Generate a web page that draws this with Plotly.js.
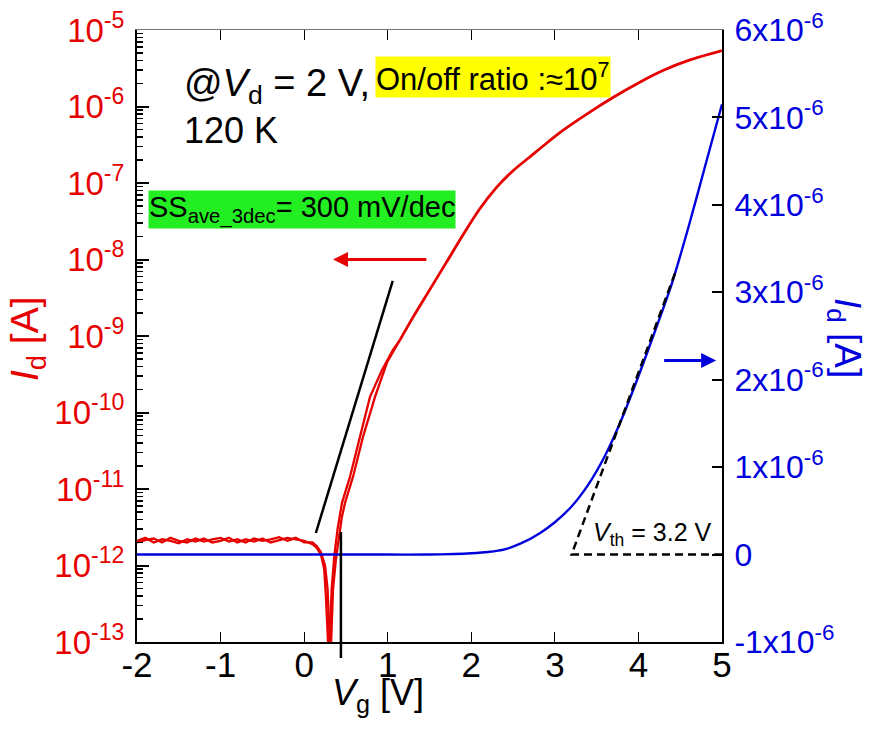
<!DOCTYPE html>
<html>
<head>
<meta charset="utf-8">
<script src="https://cdn.plot.ly/plotly-3.0.1.min.js"></script>
<style>
  html, body { margin: 0; padding: 0; background: #fff; }
  #chart { width: 874px; height: 738px; }
</style>
</head>
<body>
<div id="chart"></div>
<script>
// Transfer curve of the transistor at 120 K, Vd = 2 V.
// Left axis: Id on a log scale (red), right axis: Id on a linear scale (blue).

// Off-state plateau (both sweep directions), Vg in V, Id in A
const vgOff = [-2.0, -1.9, -1.8, -1.7, -1.6, -1.5, -1.4, -1.3, -1.2, -1.1, -1.0,
               -0.9, -0.8, -0.7, -0.6, -0.5, -0.4, -0.3, -0.2, -0.1, 0.0, 0.1];
const idOffUp = [2.1e-12, 2.3e-12, 2.0e-12, 2.2e-12, 2.1e-12, 1.95e-12, 2.2e-12, 2.05e-12, 2.25e-12, 2.0e-12, 2.1e-12,
                 2.3e-12, 2.0e-12, 2.2e-12, 2.05e-12, 2.25e-12, 2.0e-12, 2.15e-12, 2.3e-12, 2.2e-12, 2.1e-12, 1.9e-12];
const idOffDown = [2.0e-12, 2.15e-12, 2.25e-12, 2.0e-12, 2.3e-12, 2.1e-12, 2.0e-12, 2.25e-12, 2.05e-12, 2.2e-12, 2.3e-12,
                   2.05e-12, 2.2e-12, 2.0e-12, 2.25e-12, 2.1e-12, 2.2e-12, 2.35e-12, 2.1e-12, 2.3e-12, 2.0e-12, 2.0e-12];

// Subthreshold region, up sweep (left branch)
const vgSubUp = [0.15, 0.20, 0.24, 0.26, 0.28, 0.29, 0.31, 0.33, 0.36, 0.40, 0.453, 0.549, 0.668, 0.788, 0.932, 1.063, 1.147];
const idSubUp = [1.7e-12, 1.4e-12, 9e-13, 4e-13, 1.5e-13, 8e-14, 1.5e-13, 5e-13, 1.3e-12, 3.0e-12, 6.6e-12, 1.45e-11, 4.8e-11, 1.6e-10, 3.6e-10, 6.6e-10, 8.9e-10];

// Subthreshold region, down sweep (right branch)
const vgSubDown = [1.147, 0.991, 0.848, 0.704, 0.585, 0.489, 0.45, 0.405, 0.38, 0.345, 0.333, 0.32, 0.30, 0.28, 0.25, 0.20, 0.15];
const idSubDown = [8.9e-10, 4.5e-10, 1.6e-10, 4.8e-11, 1.45e-11, 6.6e-12, 4.2e-12, 1.7e-12, 1.2e-12, 4.8e-13, 1.9e-13, 8e-14, 1.5e-13, 5e-13, 1.0e-12, 1.5e-12, 1.8e-12];

// On-state (both directions overlap)
const vgOn = [1.147, 1.3, 1.5, 1.7, 1.9, 2.1, 2.3, 2.5, 2.7, 2.9, 3.1, 3.4, 3.7, 4.0, 4.3, 4.6, 5.0];
const idOn = [8.9e-10, 1.74e-9, 3.98e-9, 9.1e-9, 2.09e-8, 4.57e-8, 8.7e-8, 1.45e-7, 2.19e-7, 3.31e-7, 4.9e-7, 8.2e-7, 1.32e-6, 2.03e-6, 2.97e-6, 4.0e-6, 5.37e-6];

// Linear-scale Id (right axis), in µA before scaling
const vgLin = [-2.0, -1.0, 0.0, 1.0, 1.5, 1.8, 2.0, 2.2, 2.4, 2.6, 2.82, 3.0, 3.2, 3.4, 3.6, 3.8, 4.0, 4.2, 4.4, 4.6, 4.8, 5.0];
const idLin = [0, 0, 0, 0, 0.0, 0.006, 0.015, 0.03, 0.06, 0.13, 0.245, 0.37, 0.55, 0.80, 1.13, 1.55, 2.04, 2.56, 3.1, 3.75, 4.45, 5.15].map(v => v * 1e-6);

// Threshold extraction: linear extrapolation
const vth = 3.2;           // V
const gmSlope = 2.6e-6;    // A/V
const vFitEnd = 4.45;      // V

// Subthreshold-swing guide line
const ssV = [0.14, 1.06];
const ssI = [2.66e-12, 5.25e-9];

// Onset voltage marker
const vOnset = 0.44;

// Axis ticks
const logTickVals = [1e-13, 1e-12, 1e-11, 1e-10, 1e-9, 1e-8, 1e-7, 1e-6, 1e-5];
const logTickText = ['10<sup>-13</sup>', '10<sup>-12</sup>', '10<sup>-11</sup>', '10<sup>-10</sup>', '10<sup>-9</sup>',
                     '10<sup>-8</sup>', '10<sup>-7</sup>', '10<sup>-6</sup>', '10<sup>-5</sup>'];
const linTickVals = [-1e-6, 0, 1e-6, 2e-6, 3e-6, 4e-6, 5e-6, 6e-6];
const linTickText = ['-1x10<sup>-6</sup>', '0', '1x10<sup>-6</sup>', '2x10<sup>-6</sup>', '3x10<sup>-6</sup>',
                     '4x10<sup>-6</sup>', '5x10<sup>-6</sup>', '6x10<sup>-6</sup>'];
const xTickVals = [-2, -1, 0, 1, 2, 3, 4, 5];

const minorLog = [];
for (let e = -13; e < -5; e++) {
  for (let m = 2; m <= 9; m++) minorLog.push(m * Math.pow(10, e));
}

const RED = '#e60000';
const BLUE = '#0000dd';
const FONT = 'Arial, "Liberation Sans", sans-serif';

// Plot-area geometry in pixels, used for placing text
const W = 874, H = 738;
const L = 137, R = 722, T = 30, B = 642;
const px = x => (x - L) / (R - L);
const py = y => (B - y) / (B - T);

const traces = [
  { x: vgOff.concat(vgSubUp), y: idOffUp.concat(idSubUp),
    mode: 'lines', line: { color: RED, width: 2.3 }, yaxis: 'y', hoverinfo: 'skip' },
  { x: vgSubDown.concat(vgOff.slice().reverse()), y: idSubDown.concat(idOffDown.slice().reverse()),
    mode: 'lines', line: { color: RED, width: 2.3 }, yaxis: 'y', hoverinfo: 'skip' },
  { x: vgOn, y: idOn, mode: 'lines', line: { color: RED, width: 2.8, shape: 'spline', smoothing: 0.8 },
    yaxis: 'y', hoverinfo: 'skip' },
  { x: ssV, y: ssI, mode: 'lines', line: { color: '#000', width: 2.5 }, yaxis: 'y', hoverinfo: 'skip' },
  { x: vgLin, y: idLin, mode: 'lines', line: { color: BLUE, width: 2.4, shape: 'spline', smoothing: 0.8 },
    yaxis: 'y2', hoverinfo: 'skip' },
  { x: [5, vth, vFitEnd], y: [0, 0, gmSlope * (vFitEnd - vth)], mode: 'lines',
    line: { color: '#000', width: 2.5, dash: '8px,5px' }, yaxis: 'y2', hoverinfo: 'skip' },
  // carries the top frame ticks
  { x: [0], y: [0], xaxis: 'x2', yaxis: 'y2', mode: 'markers', marker: { opacity: 0 }, hoverinfo: 'skip' }
];

const ann = (text, x, y, opts) => Object.assign({
  text, x: px(x), y: py(y), xref: 'paper', yref: 'paper', showarrow: false,
  font: { family: FONT, size: 36, color: '#000' }, xanchor: 'left', yanchor: 'middle'
}, opts || {});

const layout = {
  width: W, height: H,
  margin: { l: L, r: W - R, t: T, b: H - B, pad: 0 },
  paper_bgcolor: '#fff', plot_bgcolor: '#fff',
  showlegend: false,
  font: { family: FONT },
  xaxis: {
    range: [-2, 5], tickvals: xTickVals, ticktext: xTickVals.map(String),
    ticks: 'inside', ticklen: 10, tickwidth: 1, tickcolor: '#000',
    showline: true, linecolor: '#000', linewidth: 2, zeroline: false, showgrid: false,
    tickfont: { family: FONT, size: 35, color: '#000' }, ticklabelstandoff: -9
  },
  xaxis2: {
    overlaying: 'x', side: 'top', matches: 'x', range: [-2, 5], tickvals: xTickVals,
    showticklabels: false, ticks: 'inside', ticklen: 10, tickwidth: 1, tickcolor: '#000',
    showline: true, linecolor: '#777', linewidth: 1, zeroline: false, showgrid: false
  },
  yaxis: {
    type: 'log', range: [-13, -5], tickvals: logTickVals, ticktext: logTickText,
    ticks: 'inside', ticklen: 12, tickwidth: 2, tickcolor: '#000',
    minor: { tickvals: minorLog, ticks: 'inside', ticklen: 6, tickwidth: 1.5, tickcolor: '#000', showgrid: false },
    showline: true, linecolor: '#000', linewidth: 2, zeroline: false, showgrid: false,
    tickfont: { family: FONT, size: 33, color: RED }, ticklabelstandoff: 4
  },
  yaxis2: {
    overlaying: 'y', side: 'right', range: [-1e-6, 6e-6], tickvals: linTickVals, ticktext: linTickText,
    ticks: 'inside', ticklen: 10, tickwidth: 2, tickcolor: '#000',
    showline: true, linecolor: '#000', linewidth: 2, zeroline: false, showgrid: false,
    tickfont: { family: FONT, size: 32, color: BLUE }, ticklabelstandoff: 4
  },
  shapes: [
    { type: 'line', xref: 'x', yref: 'paper', x0: vOnset, x1: vOnset, y0: py(658), y1: py(532),
      line: { color: '#000', width: 2.5 } }
  ],
  annotations: [
    ann('@<i>V</i><sub>d</sub> = 2 V,', 182, 86, { font: { family: FONT, size: 38, color: '#000' } }),
    ann('120 K', 182, 130),
    ann('On/off ratio :≈10<sup>7</sup>', 375, 77, { font: { family: FONT, size: 31, color: '#000' }, bgcolor: '#ffff00', borderpad: 0 }),
    ann('SS<sub>ave_3dec</sub>= 300 mV/dec', 148, 210, { font: { family: FONT, size: 29, color: '#000' }, bgcolor: '#22ee22', borderpad: 0 }),
    ann('<i>V</i><sub>th</sub> = 3.2 V', 591, 534, { font: { family: FONT, size: 25, color: '#000' } }),
    ann('<i>V</i><sub>g</sub> [V]', 378, 695, { xanchor: 'center', font: { family: FONT, size: 36, color: '#000' } }),
    ann('<i>I</i><sub>d</sub> [A]', 27, 339, { xanchor: 'center', textangle: -90, font: { family: FONT, size: 39, color: RED } }),
    ann('<i>I</i><sub>d</sub> [A]', 845, 338, { xanchor: 'center', textangle: 90, font: { family: FONT, size: 37, color: BLUE } }),
    // direction arrows: each points at the axis its curve belongs to
    { x: 0.345, y: -8, xref: 'x', yref: 'y', ax: 1.48, ay: -8, axref: 'x', ayref: 'y',
      showarrow: true, arrowhead: 2, arrowsize: 1, arrowwidth: 3, arrowcolor: RED, text: '' },
    { x: 4.93, y: 2.22e-6, xref: 'x', yref: 'y2', ax: 4.29, ay: 2.22e-6, axref: 'x', ayref: 'y2',
      showarrow: true, arrowhead: 2, arrowsize: 1, arrowwidth: 3, arrowcolor: BLUE, text: '' }
  ]
};

Plotly.newPlot('chart', traces, layout, { displayModeBar: false, staticPlot: true });
</script>
</body>
</html>
